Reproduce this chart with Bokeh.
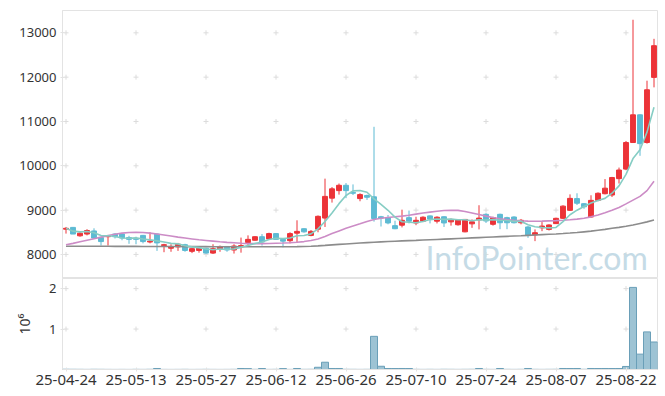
import numpy as np
import pandas as pd
from bokeh.plotting import figure
from bokeh.layouts import column
from bokeh.models import Range1d, FixedTicker
from bokeh.core.properties import value
from bokeh.embed import file_html
from bokeh.resources import INLINE

# ---------------- data ----------------
start_date = "2025-04-24"
end_date = "2025-08-28"
holidays = ["2025-05-01", "2025-05-05", "2025-05-06", "2025-06-03", "2025-06-06", "2025-08-15"]

opens = [8570, 8610, 8420, 8460, 8530, 8380, 8400, 8460, 8460, 8380,
         8360, 8430, 8280, 8460, 8200, 8140, 8170, 8220, 8070, 8090,
         8140, 8030, 8120, 8180, 8100, 8170, 8270, 8320, 8400, 8350,
         8470, 8340, 8310, 8480, 8580, 8430, 8570, 8820, 9270, 9440,
         9560, 9400, 9260, 9330, 9300, 8850, 8830, 8650, 8660, 8830,
         8710, 8750, 8870, 8750, 8850, 8735, 8670, 8510, 8690, 8780,
         8905, 8680, 8905, 8830, 8845, 8715, 8620, 8440, 8600, 8565,
         8695, 8815, 8995, 9260, 9145, 8845, 9220, 9370, 9340, 9710,
         9925, 10525, 11150, 10525, 11995]
highs = [8620, 8620, 8500, 8570, 8590, 8390, 8430, 8480, 8480, 8420,
         8400, 8440, 8500, 8470, 8240, 8230, 8260, 8240, 8150, 8160,
         8150, 8230, 8200, 8190, 8230, 8380, 8430, 8410, 8460, 8490,
         8480, 8350, 8500, 8770, 8590, 8550, 8880, 9710, 9520, 9600,
         9610, 9580, 9380, 9350, 10880, 8870, 8890, 8760, 9010, 8990,
         8850, 8860, 8880, 8860, 8860, 8810, 8790, 8800, 8790, 9110,
         8930, 8850, 8920, 8850, 8860, 8800, 8640, 8565, 8730, 8680,
         8830, 9110, 9355, 9380, 9160, 9335, 9400, 9700, 9750, 9960,
         10560, 13295, 11160, 11920, 12865]
lows = [8470, 8460, 8400, 8430, 8360, 8200, 8200, 8360, 8320, 8240,
        8230, 8250, 8250, 8080, 8050, 8060, 8080, 8060, 8030, 8040,
        8020, 8010, 8060, 8060, 8020, 8040, 8210, 8310, 8200, 8340,
        8330, 8160, 8250, 8260, 8490, 8410, 8500, 8620, 9170, 9350,
        9270, 9340, 9200, 9230, 8740, 8630, 8680, 8570, 8610, 8700,
        8660, 8730, 8700, 8700, 8620, 8650, 8650, 8500, 8600, 8565,
        8710, 8650, 8570, 8570, 8700, 8680, 8375, 8300, 8525, 8540,
        8690, 8800, 8980, 9115, 9030, 8830, 9200, 9355, 9295, 9600,
        9900, 10520, 10225, 10500, 11770]
closes = [8590, 8460, 8480, 8540, 8370, 8290, 8420, 8400, 8370, 8340,
          8340, 8290, 8300, 8260, 8220, 8180, 8230, 8090, 8130, 8140,
          8030, 8130, 8180, 8100, 8190, 8200, 8340, 8400, 8280, 8470,
          8340, 8300, 8470, 8520, 8510, 8520, 8860, 9310, 9480, 9560,
          9440, 9380, 9350, 9290, 8810, 8820, 8710, 8580, 8770, 8750,
          8770, 8840, 8800, 8840, 8710, 8790, 8775, 8790, 8735, 8820,
          8755, 8830, 8715, 8715, 8715, 8770, 8430, 8490, 8640, 8665,
          8815, 9090, 9265, 9155, 9075, 9220, 9380, 9495, 9735, 9905,
          10525, 11150, 10500, 11715, 12710]
volumes = [6000, 5000, 4000, 3000, 5000, 4000, 3000, 2000, 3000, 2000,
           4000, 3000, 5000, 25000, 3000, 2000, 3000, 4000, 2000, 3000,
           4000, 3000, 2000, 3000, 4000, 25000, 22000, 4000, 24000, 3000,
           4000, 22000, 3000, 25000, 4000, 5000, 55000, 180000, 25000, 25000,
           5000, 4000, 3000, 4000, 820000, 80000, 25000, 24000, 25000, 24000,
           4000, 3000, 4000, 3000, 5000, 4000, 3000, 4000, 5000, 25000,
           4000, 3000, 25000, 4000, 3000, 4000, 25000, 4000, 3000, 4000,
           5000, 25000, 24000, 25000, 5000, 25000, 24000, 25000, 24000, 25000,
           75000, 2030000, 380000, 930000, 680000]
ma20 = [8220, 8250, 8285, 8320, 8355, 8390, 8425, 8455, 8480, 8495,
        8500, 8495, 8480, 8460, 8440, 8415, 8390, 8370, 8350, 8330,
        8315, 8300, 8285, 8272, 8262, 8252, 8245, 8243, 8243, 8246,
        8252, 8258, 8265, 8275, 8290, 8315, 8350, 8405, 8470, 8530,
        8590, 8640, 8690, 8745, 8790, 8815, 8835, 8850, 8865, 8885,
        8910, 8935, 8955, 8975, 8990, 8998, 8995, 8970, 8935, 8900,
        8865, 8835, 8805, 8785, 8770, 8760, 8752, 8750, 8752, 8757,
        8762, 8770, 8782, 8797, 8818, 8848, 8890, 8940, 8995, 9060,
        9140, 9225, 9310, 9440, 9650]
ma_long = [8185, 8185, 8185, 8184, 8184, 8183, 8183, 8182, 8182, 8181,
           8181, 8180, 8180, 8179, 8179, 8178, 8178, 8177, 8177, 8176,
           8176, 8175, 8175, 8174, 8174, 8173, 8173, 8172, 8172, 8172,
           8172, 8173, 8174, 8176, 8180, 8186, 8194, 8204, 8215, 8226,
           8237, 8248, 8258, 8267, 8276, 8284, 8291, 8298, 8305, 8311,
           8317, 8324, 8331, 8338, 8345, 8352, 8359, 8366, 8373, 8380,
           8387, 8394, 8401, 8408, 8415, 8422, 8430, 8438, 8446, 8454,
           8462, 8472, 8483, 8495, 8510, 8525, 8545, 8565, 8590, 8610,
           8635, 8665, 8700, 8735, 8775]
price_ticks = [8000, 9000, 10000, 11000, 12000, 13000]
volume_ticks = [1, 2]          # in millions
date_tick_step = 10
watermark = "InfoPointer.com"

# ---------------- derived ----------------
dates = pd.bdate_range(start_date, end_date)
dates = dates[~dates.isin(pd.to_datetime(holidays))]
labels = [d.strftime("%y-%m-%d") for d in dates]
n = len(closes)
idx = np.arange(n)
o = np.array(opens, float); c = np.array(closes, float)
h = np.array(highs, float); l = np.array(lows, float)
up = c >= o
RED = "#ec3338"
BLUE = "#5dbad3"
colors = [RED if u else BLUE for u in up]
ma5 = pd.Series(c).rolling(5, min_periods=1).mean().values

xticks = list(range(0, n, date_tick_step))
overrides = {int(t): labels[t] for t in xticks}

GRID = "#dcdcdc"
AXIS = "#e3e3e3"
TXT = "#333333"
FONT = "Noto Sans"

x_range = Range1d(-0.5, n - 0.5)

# ---------------- price panel ----------------
p1 = figure(width=660, height=278, x_range=x_range, y_range=Range1d(7457, 13504),
            output_backend="svg", toolbar_location=None, x_axis_location=None,
            min_border_left=62, min_border_right=3, min_border_top=10, min_border_bottom=0)
p1.xgrid.visible = False
p1.ygrid.visible = False
p1.outline_line_color = AXIS
p1.yaxis.ticker = FixedTicker(ticks=price_ticks)
p1.yaxis.axis_line_color = AXIS
p1.yaxis.major_tick_line_color = AXIS
p1.yaxis.major_tick_in = 2
p1.yaxis.major_tick_out = 2
p1.yaxis.minor_tick_line_color = None
p1.yaxis.major_label_text_font = FONT
p1.yaxis.major_label_text_font_size = "13px"
p1.yaxis.major_label_text_color = TXT
p1.yaxis.major_label_standoff = 4

gx = [x for x in xticks for y in price_ticks]
gy = [y for x in xticks for y in price_ticks]
p1.scatter(x=gx, y=gy, marker="cross", size=5, line_color=GRID, line_width=1)

# watermark (decoration, right-aligned near the lower right corner)
p1.text(x=[n - 1.9], y=[7920], text=[watermark], text_align="right",
        text_baseline="alphabetic", text_font=value("Lato"), text_font_size="32px",
        text_color="#c5dbe6")

p1.segment(x0=idx, y0=l, x1=idx, y1=h, line_color=colors, line_width=1)
p1.vbar(x=idx, bottom=np.minimum(o, c), top=np.maximum(o, c), width=0.7,
        fill_color=colors, line_color=colors, line_width=1)

p1.line(idx, ma_long, line_color="#8c8c8c", line_width=1.6)
p1.line(idx, ma20, line_color="#cc8cc6", line_width=1.6)
p1.line(idx, ma5, line_color="#86cdc4", line_width=1.6)

# ---------------- volume panel ----------------
p2 = figure(width=660, height=109, x_range=x_range, y_range=Range1d(0, 2.25),
            output_backend="svg", toolbar_location=None,
            min_border_left=62, min_border_right=3, min_border_top=0, min_border_bottom=0)
p2.xgrid.visible = False
p2.ygrid.visible = False
p2.outline_line_color = AXIS
p2.yaxis.ticker = FixedTicker(ticks=volume_ticks)
p2.yaxis.axis_label = "10\u2076"
p2.yaxis.axis_label_text_font = FONT
p2.yaxis.axis_label_text_font_style = "normal"
p2.yaxis.axis_label_text_font_size = "14px"
p2.yaxis.axis_label_text_color = TXT
p2.yaxis.axis_label_standoff = 12
for ax in (p2.yaxis[0], p2.xaxis[0]):
    ax.axis_line_color = AXIS
    ax.major_tick_line_color = AXIS
    ax.major_tick_in = 2
    ax.major_tick_out = 2
    ax.minor_tick_line_color = None
    ax.major_label_text_font = FONT
    ax.major_label_text_color = TXT
p2.yaxis.major_label_text_font_size = "13px"
p2.yaxis.major_label_standoff = 4
p2.xaxis.ticker = FixedTicker(ticks=xticks)
p2.xaxis.major_label_overrides = overrides
p2.xaxis.major_label_text_font_size = "15px"
p2.xaxis.major_label_standoff = 3

vx = [x for x in xticks for y in volume_ticks]
vy = [y for x in xticks for y in volume_ticks]
p2.scatter(x=vx, y=vy, marker="cross", size=5, line_color=GRID, line_width=1)

p2.vbar(x=idx, top=np.array(volumes) / 1e6, bottom=0, width=1.0,
        fill_color="#9dc3d4", line_color="#6a9fb8", line_width=1)

layout = column(p1, p2)
open("out.html", "w").write(file_html(layout, INLINE))
